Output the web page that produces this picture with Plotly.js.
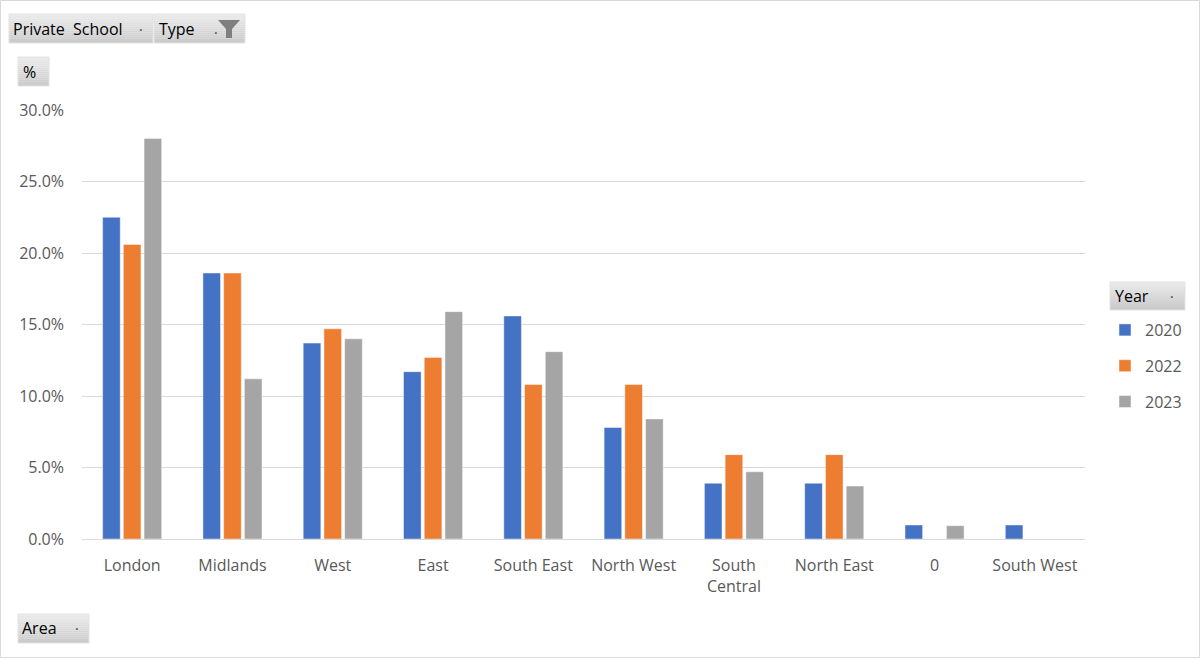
<!DOCTYPE html>
<html>
<head>
<meta charset="utf-8">
<script src="https://cdn.plot.ly/plotly-3.0.1.min.js"></script>
<style>
  html, body { margin: 0; padding: 0; background: #ffffff; }
  #chart { width: 1200px; height: 658px; }
</style>
</head>
<body>
<div id="chart"></div>
<script>
// ---- data ----
const areas = ["London", "Midlands", "West", "East", "South East", "North West", "South<br>Central", "North East", "0", "South West"];
const years = ["2020", "2022", "2023"];
const values2020 = [22.5, 18.6, 13.7, 11.7, 15.6, 7.8, 3.9, 3.9, 0.98, 0.98];
const values2022 = [20.6, 18.6, 14.7, 12.7, 10.8, 10.8, 5.9, 5.9, null, null];
const values2023 = [28.0, 11.2, 14.0, 15.9, 13.1, 8.4, 4.7, 3.7, 0.93, null];
const yTicks = [0, 5, 10, 15, 20, 25, 30];
const seriesColors = ["#4472C4", "#ED7D31", "#A5A5A5"];

// ---- geometry helpers (pixel -> paper) ----
const PW = 1200, PH = 658;
const M = { l: 82, r: 115, t: 110, b: 119 };
const plotW = PW - M.l - M.r, plotH = PH - M.t - M.b;
const X = px => (px - M.l) / plotW;
const Y = py => (PH - M.b - py) / plotH;

const font = "'Open Sans', 'Noto Sans', sans-serif";
const labelColor = "#595959";

const seriesValues = [values2020, values2022, values2023];
const traces = years.map((yr, i) => ({
  type: "bar",
  name: yr,
  x: areas,
  y: seriesValues[i],
  legendgroup: "g" + yr,
  marker: { color: seriesColors[i], line: { color: "rgba(255,255,255,0.45)", width: 1 } },
  hoverinfo: "x+y+name"
}));

// filter-button chrome
function button(x0, y0, x1, y1) {
  const shapes = [];
  const bands = 14;
  for (let k = 0; k < bands; k++) {
    const t = k / (bands - 1);
    const c = Math.round(234 - t * 32);
    shapes.push({
      type: "rect", xref: "paper", yref: "paper", layer: "above",
      x0: X(x0), x1: X(x1),
      y0: Y(y0 + (y1 - y0) * (k + 1) / bands), y1: Y(y0 + (y1 - y0) * k / bands),
      fillcolor: `rgb(${c},${c},${c})`, line: { width: 0 }
    });
  }
  shapes.push({
    type: "rect", xref: "paper", yref: "paper", layer: "above",
    x0: X(x0), x1: X(x1), y0: Y(y1), y1: Y(y0),
    fillcolor: "rgba(0,0,0,0)", line: { color: "#e3e3e3", width: 1 }
  });
  return shapes;
}
function btnText(text, px, py, size, color) {
  return {
    xref: "paper", yref: "paper", x: X(px), y: Y(py), xanchor: "left", yanchor: "middle",
    text: text, showarrow: false, font: { family: font, size: size || 16, color: color || "#000000" }
  };
}

const shapes = [].concat(
  [{ type: "rect", xref: "paper", yref: "paper", layer: "below",
     x0: X(0.5), x1: X(1199.5), y0: Y(657.5), y1: Y(0.5),
     fillcolor: "rgba(0,0,0,0)", line: { color: "#d9d9d9", width: 1 } }],
  button(9, 14, 153, 43),
  button(154, 14, 245, 43),
  button(18, 57, 49, 86),
  button(18, 614, 89, 643),
  button(1110, 282, 1185, 310),
  [{ type: "path", xref: "paper", yref: "paper", layer: "above",
     path: `M ${X(218)} ${Y(20)} L ${X(240)} ${Y(20)} L ${X(232)} ${Y(29)} L ${X(232)} ${Y(38)} L ${X(226)} ${Y(38)} L ${X(226)} ${Y(29)} Z`,
     fillcolor: "#7f7f7f", line: { width: 0 } }]
);

const annotations = [
  btnText("Private&nbsp;&nbsp;School", 11, 29),
  btnText("·", 137, 29, 14, "#404040"),
  btnText("Type", 157, 29),
  btnText("·", 212, 33, 14, "#404040"),
  btnText("%", 21, 72),
  btnText("Area", 20, 628),
  btnText("·", 73, 628, 14, "#404040"),
  btnText("Year", 1113, 296),
  btnText("·", 1168, 296, 14, "#404040")
];

const layout = {
  width: PW, height: PH,
  margin: M,
  paper_bgcolor: "#ffffff", plot_bgcolor: "#ffffff",
  font: { family: font, size: 16, color: labelColor },
  barmode: "group",
  bargap: 0.38,
  bargroupgap: 0.15,
  showlegend: true,
  legend: {
    x: X(1105), y: Y(313), xanchor: "left", yanchor: "top",
    font: { family: font, size: 16, color: labelColor },
    tracegroupgap: 12, itemwidth: 30, bgcolor: "rgba(0,0,0,0)"
  },
  xaxis: {
    type: "category",
    tickfont: { family: font, size: 16, color: labelColor },
    showgrid: false, showline: false, ticks: "", zeroline: false,
    ticklabelstandoff: 15,
    fixedrange: true
  },
  yaxis: {
    range: [0, 30],
    tickvals: yTicks,
    ticktext: yTicks.map(v => v.toFixed(1) + "%"),
    tickfont: { family: font, size: 16, color: labelColor },
    showgrid: true, gridcolor: "#d9d9d9", gridwidth: 1,
    zeroline: true, zerolinecolor: "#d9d9d9", zerolinewidth: 1,
    showline: false, ticks: "",
    ticklabelstandoff: 17,
    fixedrange: true
  },
  shapes: shapes,
  annotations: annotations
};

Plotly.newPlot("chart", traces, layout, { displayModeBar: false, staticPlot: true });
</script>
</body>
</html>
